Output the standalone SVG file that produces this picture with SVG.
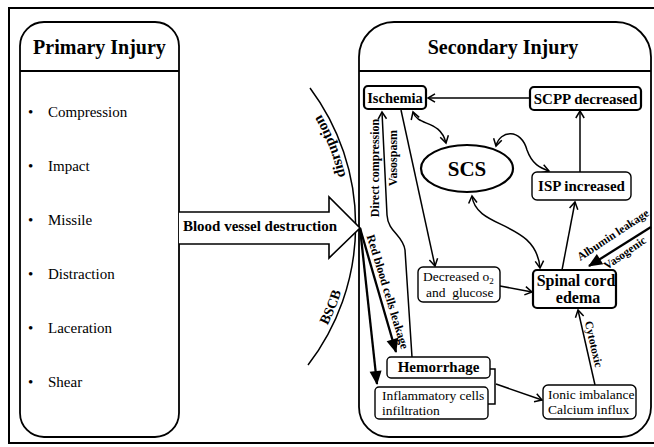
<svg xmlns="http://www.w3.org/2000/svg" width="654" height="447" viewBox="0 0 654 447">
<style>
text{font-family:"Liberation Serif","Times New Roman",serif;fill:#000}
.b{font-weight:bold}
.box{fill:#fff;stroke:#000;stroke-width:1.4}
.tbox{fill:#fff;stroke:#000;stroke-width:2.2}
.panel{fill:#fff;stroke:#000;stroke-width:1.8}
.c{fill:none;stroke:#000;stroke-width:1.5}
.thick{fill:none;stroke:#000;stroke-width:2.3}
.li{font-size:15px}
.rl{font-size:12px;font-weight:bold}
</style>
<defs>
<marker id="v" markerUnits="userSpaceOnUse" markerWidth="12" markerHeight="12" refX="8" refY="5" orient="auto-start-reverse" overflow="visible">
<path d="M1,0.8 L8,5 L1,9.2" fill="none" stroke="#000" stroke-width="1.5"/>
</marker>
<marker id="f" markerUnits="userSpaceOnUse" markerWidth="16" markerHeight="14" refX="13" refY="6" orient="auto" overflow="visible">
<path d="M0,0 L14,6 L0,12 z" fill="#000"/>
</marker>
<path id="arcD" d="M350 205 A223 223 0 0 0 304.7 90"/>
<path id="arcB" d="M316.6 345 A223 223 0 0 0 346.6 270"/>
</defs>
<rect x="0" y="0" width="654" height="447" fill="#fff"/>
<rect x="9" y="8" width="660" height="435" fill="none" stroke="#000" stroke-width="2"/>

<g id="primary">
<path class="panel" d="M44 22 H155 A24 24 0 0 1 179 46 V413 A24 24 0 0 1 155 437 H44 A24 24 0 0 1 20 413 V46 A24 24 0 0 1 44 22 Z"/>
<line x1="20" y1="71" x2="179" y2="71" stroke="#000" stroke-width="1.8"/>
<text x="99.5" y="54" text-anchor="middle" class="b" font-size="20">Primary Injury</text>
<g class="li">
<text x="28" y="117">•</text><text x="48" y="117">Compression</text>
<text x="28" y="171">•</text><text x="48" y="171">Impact</text>
<text x="28" y="225">•</text><text x="48" y="225">Missile</text>
<text x="28" y="279">•</text><text x="48" y="279">Distraction</text>
<text x="28" y="333">•</text><text x="48" y="333">Laceration</text>
<text x="28" y="387">•</text><text x="48" y="387">Shear</text>
</g>
</g>

<g id="secondary">
<path class="panel" d="M394 22 H616 A35 35 0 0 1 651 57 V407 A30 30 0 0 1 621 437 H389 A30 30 0 0 1 359 407 V57 A35 35 0 0 1 394 22 Z"/>
<line x1="359" y1="71" x2="651" y2="71" stroke="#000" stroke-width="1.8"/>
<text x="503" y="54" text-anchor="middle" class="b" font-size="20">Secondary Injury</text>
</g>

<g id="barrier">
<path class="c" d="M310 88 A229 229 0 0 1 308 365"/>
<text class="b" font-size="15"><textPath href="#arcD" startOffset="50%" text-anchor="middle">disruption</textPath></text>
<text class="b" font-size="14"><textPath href="#arcB" startOffset="50%" text-anchor="middle">BSCB</textPath></text>
</g>

<g id="blood-vessel-destruction">
<path d="M179 212 H329 V197 L360 228 L329 258 V244 H179" fill="#fff" stroke="#000" stroke-width="1.6"/>
<text x="260" y="231" text-anchor="middle" class="b" font-size="15">Blood vessel destruction</text>
</g>

<g id="connectors">
<line class="c" x1="530" y1="98" x2="428" y2="98" marker-end="url(#v)"/>
<line class="c" x1="580" y1="172" x2="580" y2="111" marker-end="url(#v)"/>
<path class="c" d="M413 112 C418 127 440 119 446 143" marker-start="url(#v)" marker-end="url(#v)"/>
<path class="c" d="M496 146 C500 130 521 128 527 150 C532 164 540 168 549 171" marker-start="url(#v)" marker-end="url(#v)"/>
<path class="c" d="M472 196 C476 230 536 220 540 268" marker-start="url(#v)" marker-end="url(#v)"/>
<line class="c" x1="401" y1="110" x2="435" y2="266" marker-end="url(#v)"/>
<line class="c" x1="500" y1="286" x2="532" y2="292" marker-end="url(#v)"/>
<line class="c" x1="562" y1="270" x2="575" y2="202" marker-end="url(#v)"/>
<path class="c" d="M412 357 L405 250 C403 235 388 232 387 215 L382 112" marker-end="url(#v)"/>
<line class="thick" x1="360" y1="228" x2="396" y2="352" marker-end="url(#f)"/>
<line class="thick" x1="360" y1="228" x2="377" y2="384" marker-end="url(#f)"/>
<line class="thick" x1="651" y1="227" x2="589" y2="266" marker-end="url(#f)"/>
<polyline class="c" points="490,369 495,369 495,404 488,404"/>
<line class="c" x1="496" y1="384" x2="542" y2="400" marker-end="url(#v)"/>
<line class="c" x1="595" y1="385" x2="578" y2="310" marker-end="url(#v)"/>
<text class="rl" x="379" y="168" text-anchor="middle" transform="rotate(-90 379 168)">Direct compression</text>
<text class="rl" x="397" y="158" text-anchor="middle" transform="rotate(-90 397 158)">Vasospasm</text>
<text class="rl" x="384" y="293" text-anchor="middle" transform="rotate(73 384 293)">Red blood cells leakage</text>
<text class="b" font-size="11.5" x="615" y="238" text-anchor="middle" transform="rotate(-33.5 615 238)">Albumin leakage</text>
<text class="b" font-size="11.5" x="627" y="256" text-anchor="middle" transform="rotate(-35 627 256)">Vasogenic</text>
<text class="b" font-size="11.5" x="590" y="345" text-anchor="middle" transform="rotate(77 590 345)">Cytotoxic</text>
</g>

<g id="ischemia">
<rect class="tbox" x="364" y="86" width="62" height="23" rx="4"/>
<text x="395" y="102.5" text-anchor="middle" class="b" font-size="14.5">Ischemia</text>
</g>
<g id="scpp">
<rect class="tbox" x="530" y="87" width="111" height="23" rx="4"/>
<text x="585.5" y="103.5" text-anchor="middle" class="b" font-size="15">SCPP decreased</text>
</g>
<g id="scs">
<ellipse cx="467" cy="168.5" rx="46" ry="23.5" fill="#fff" stroke="#000" stroke-width="2.2"/>
<text x="467" y="176" text-anchor="middle" class="b" font-size="21">SCS</text>
</g>
<g id="isp">
<rect class="box" x="532" y="172" width="99" height="28" rx="5"/>
<text x="581.5" y="191" text-anchor="middle" class="b" font-size="15">ISP increased</text>
</g>
<g id="decreased-o2">
<rect class="box" x="418" y="267" width="82" height="35" rx="5"/>
<text x="423" y="281" font-size="13.5">Decreased o<tspan font-size="9" dy="3">2</tspan></text>
<text x="426" y="297" font-size="13.5">and&#160; glucose</text>
</g>
<g id="spinal-cord-edema">
<rect class="tbox" x="533" y="270" width="83" height="38" rx="4"/>
<text x="576" y="286" text-anchor="middle" class="b" font-size="16">Spinal cord</text>
<text x="578" y="303" text-anchor="middle" class="b" font-size="16">edema</text>
</g>
<g id="hemorrhage">
<rect class="box" x="387" y="357" width="103" height="21" rx="4"/>
<text x="438.5" y="372" text-anchor="middle" class="b" font-size="15">Hemorrhage</text>
</g>
<g id="inflammatory">
<rect class="box" x="375" y="387" width="113" height="32" rx="4"/>
<text x="382" y="400" font-size="13.5">Inflammatory cells</text>
<text x="382" y="415" font-size="13.5">infiltration</text>
</g>
<g id="ionic">
<rect class="box" x="543" y="385" width="93" height="34" rx="5"/>
<text x="548" y="399" font-size="13.5">Ionic imbalance</text>
<text x="548" y="414" font-size="13.5">Calcium influx</text>
</g>
</svg>
